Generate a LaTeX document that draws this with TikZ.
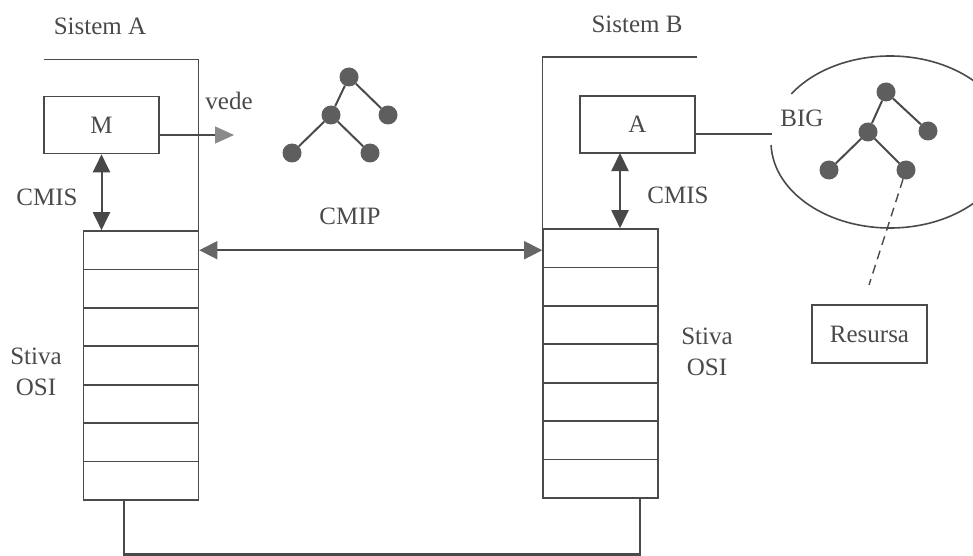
\documentclass[tikz,border=0pt]{standalone}
\usepackage{fontspec}
\setmainfont{Liberation Serif}
\usetikzlibrary{arrows.meta}

\definecolor{ink}{HTML}{4A4A4A}
\definecolor{tipdark}{HTML}{484848}
\definecolor{tipmid}{HTML}{666666}
\definecolor{tiplight}{HTML}{8A8A8A}
\definecolor{ballfill}{HTML}{5E5E5E}

\tikzset{
  txt/.style={font=\fontsize{25}{31}\selectfont, text=ink, inner sep=0pt, align=center},
  box/.style={draw=ink, line width=1.6pt, minimum width=115pt, minimum height=57pt,
              inner sep=0pt, font=\fontsize{25}{31}\selectfont, text=ink},
  layer/.style={draw=ink, line width=1.6pt, minimum width=115pt, minimum height=38.43pt,
                inner sep=0pt},
  frame/.style={draw=ink, line width=1.6pt},
  ball/.style={circle, fill=ballfill, minimum size=19pt, inner sep=0pt},
  twig/.style={draw=ink, line width=2pt},
  cmis/.style={draw=ink, line width=2pt, {Triangle[length=18pt,width=17pt,color=tipdark]}-{Triangle[length=18pt,width=17pt,color=tipdark]}},
  cmip/.style={draw=ink, line width=1.6pt, {Triangle[length=18pt,width=18pt,color=tipmid]}-{Triangle[length=18pt,width=18pt,color=tipmid]}},
  seeArrow/.style={draw=ink, line width=1.4pt, -{Triangle[length=19pt,width=17pt,color=tiplight]}},
  link/.style={draw=ink, line width=2.4pt},
}

\begin{document}
\begin{tikzpicture}[x=1pt, y=-1pt]
  \useasboundingbox (0,0) rectangle (973,556);

  % ---- Sistem A ----
  \node[txt] (titA) at (100,26) {Sistem A};
  \draw[frame] (44,59.5) -- (198.5,59.5) -- (198.5,231);
  \node[box] (M) at (101.5,125) {M};
  \foreach \i in {1,...,7}
    \node[layer] (la\i) at (141,{231+38.43*(\i-0.5)}) {};
  \node[txt, anchor=base] (stivaA) at (36,395) {Stiva\\OSI};

  % ---- Sistem B ----
  \node[txt] (titB) at (637,24) {Sistem B};
  \draw[frame] (697,57) -- (542.5,57) -- (542.5,229);
  \node[box] (A) at (637.5,124.5) {A};
  \foreach \i in {1,...,7}
    \node[layer] (lb\i) at (600.5,{229+38.43*(\i-0.5)}) {};
  \node[txt, anchor=base] (stivaB) at (707,375) {Stiva\\OSI};

  % ---- labels ----
  \node[txt, anchor=base] (vede) at (229,110) {vede};
  \node[txt, anchor=base] (cmisA) at (47,205) {CMIS};
  \node[txt, anchor=base] (cmisB) at (678,203) {CMIS};
  \node[txt, anchor=base] (cmip) at (350,224) {CMIP};
  \node[txt, anchor=base] (big) at (802,127) {BIG};

  % ---- tree seen by the manager ----
  \node[ball] (t1) at (349,77) {};
  \node[ball] (t2) at (331,115) {};
  \node[ball] (t3) at (388,115) {};
  \node[ball] (t4) at (292,153) {};
  \node[ball] (t5) at (370,153) {};
  \draw[twig] (t1) -- (t2) (t1) -- (t3) (t2) -- (t4) (t2) -- (t5);

  % ---- BIG: management information tree ----
  \draw[frame] (890,142) ++(-178:119pt and 86pt)
    arc[start angle=-178, end angle=146, x radius=119pt, y radius=86pt];
  \node[ball] (g1) at (886,92) {};
  \node[ball] (g2) at (868,132) {};
  \node[ball] (g3) at (928,131) {};
  \node[ball] (g4) at (829,170) {};
  \node[ball] (g5) at (906,170) {};
  \draw[twig] (g1) -- (g2) (g1) -- (g3) (g2) -- (g4) (g2) -- (g5);

  \node[box, line width=1.4pt, minimum height=58pt] (res) at (869.5,334) {Resursa};
  \coordinate (resTop) at (869,285);
  \draw[ink, line width=1.4pt, dash pattern=on 9pt off 6pt] (g5) -- (resTop);

  % ---- connectors ----
  \coordinate (seeEnd) at (234,135);
  \draw[seeArrow] (M.east |- seeEnd) -- (seeEnd);

  \coordinate (bigEnd) at (772,134);
  \draw[frame] (A.east |- bigEnd) -- (bigEnd);

  \draw[cmis] (M.south |- la1.north) -- (M.south);
  \coordinate (aFoot) at (620,153);
  \draw[cmis] (aFoot |- lb1.north) -- (aFoot);

  \draw[cmip] (la1.east) -- (la1.east -| lb1.west);

  \coordinate (bendA) at (124,554.5);
  \coordinate (bendB) at (640,554.5);
  \draw[link] (bendA |- la7.south) -- (bendA) -- (bendB) -- (bendB |- lb7.south);
\end{tikzpicture}
\end{document}
